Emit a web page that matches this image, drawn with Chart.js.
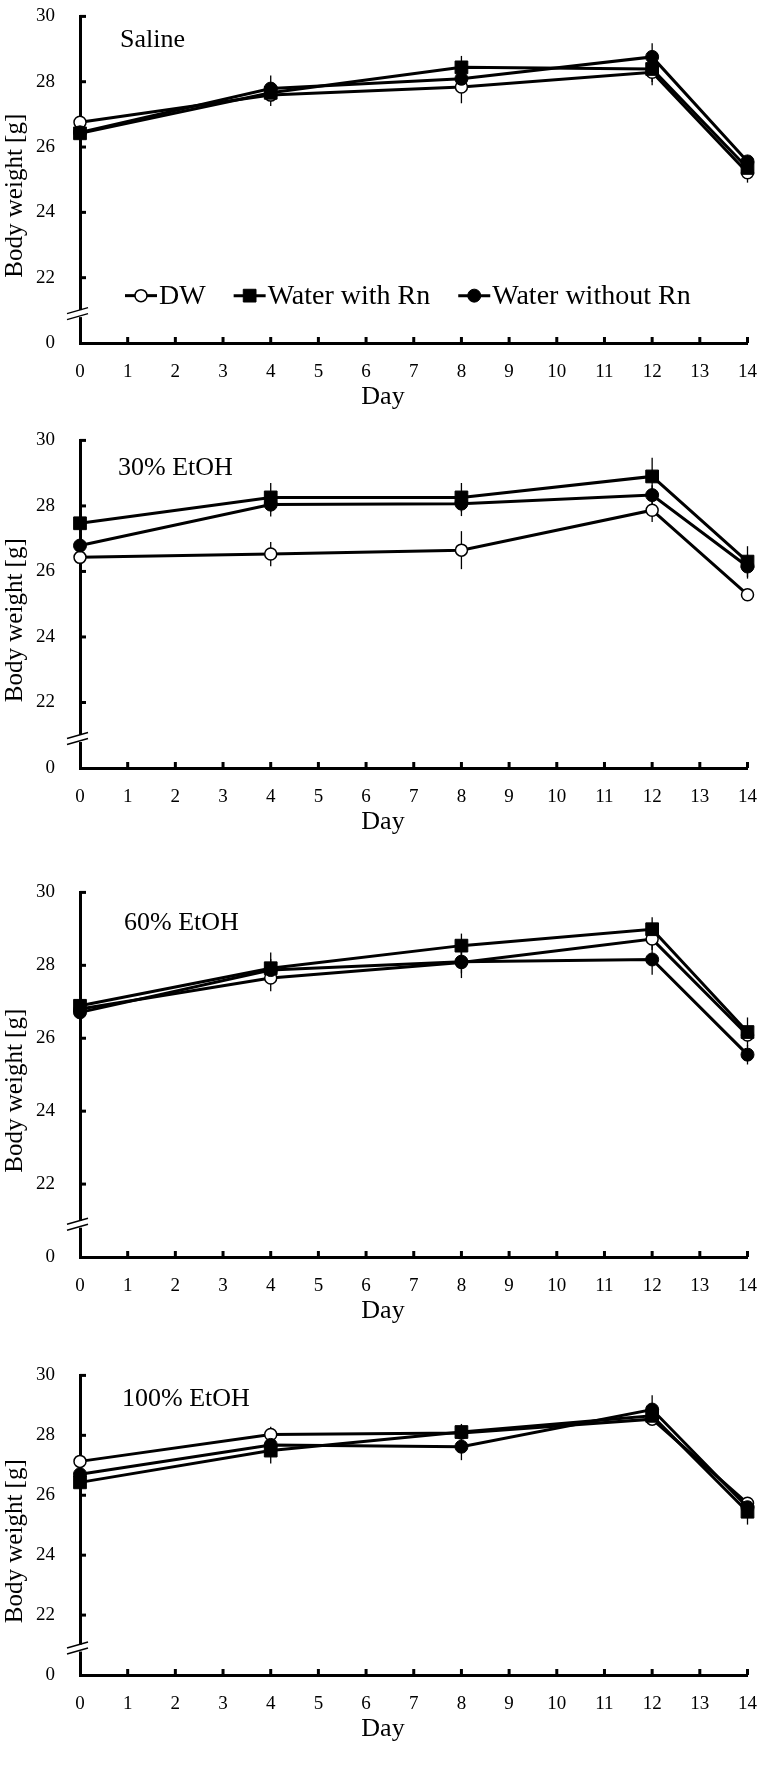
<!DOCTYPE html>
<html>
<head>
<meta charset="utf-8">
<title>Body weight</title>
<script src="https://cdn.jsdelivr.net/npm/chart.js@4.4.1/dist/chart.umd.min.js"></script>
<style>
  html, body { margin: 0; padding: 0; background: #fff; }
  body { width: 767px; height: 1784px; position: relative; overflow: hidden; }
  canvas { position: absolute; left: 0; }
</style>
</head>
<body>
<canvas id="panel0"></canvas>
<canvas id="panel1"></canvas>
<canvas id="panel2"></canvas>
<canvas id="panel3"></canvas>
<script>
// -------- DATA --------
const days = [0, 4, 8, 12, 14];
const dayTicks = [0, 1, 2, 3, 4, 5, 6, 7, 8, 9, 10, 11, 12, 13, 14];
const yTicks = [20, 22, 24, 26, 28, 30];
const yTickLabels = ['0', '22', '24', '26', '28', '30'];
const seriesNames = ['DW', 'Water with Rn', 'Water without Rn'];
const panelTitles = ['Saline', '30% EtOH', '60% EtOH', '100% EtOH'];

// Saline
const salineDW = [26.76, 27.59, 27.84, 28.29, 25.21];
const salineRn = [26.42, 27.66, 28.44, 28.39, 25.36];
const salineNoRn = [26.45, 27.79, 28.09, 28.76, 25.56];
const salineDWErr = [0.15, 0.33, 0.5, 0.3, 0.3];
const salineRnErr = [0.15, 0.2, 0.35, 0.5, 0.2];
const salineNoRnErr = [0.15, 0.4, 0.25, 0.42, 0.2];

// 30% EtOH
const etoh30DW = [26.43, 26.53, 26.65, 27.87, 25.29];
const etoh30Rn = [27.47, 28.26, 28.26, 28.9, 26.3];
const etoh30NoRn = [26.79, 28.04, 28.07, 28.33, 26.15];
const etoh30DWErr = [0.15, 0.37, 0.58, 0.36, 0.15];
const etoh30RnErr = [0.15, 0.44, 0.44, 0.57, 0.47];
const etoh30NoRnErr = [0.15, 0.36, 0.38, 0.3, 0.37];

// 60% EtOH
const etoh60DW = [26.8, 27.65, 28.08, 28.72, 26.09];
const etoh60Rn = [26.89, 27.92, 28.54, 28.99, 26.17];
const etoh60NoRn = [26.71, 27.87, 28.1, 28.16, 25.55];
const etoh60DWErr = [0.15, 0.36, 0.3, 0.3, 0.2];
const etoh60RnErr = [0.15, 0.43, 0.33, 0.33, 0.4];
const etoh60NoRnErr = [0.15, 0.3, 0.45, 0.42, 0.27];

// 100% EtOH
const etoh100DW = [27.13, 28.03, 28.08, 28.54, 25.73];
const etoh100Rn = [26.43, 27.49, 28.11, 28.65, 25.45];
const etoh100NoRn = [26.7, 27.68, 27.62, 28.86, 25.6];
const etoh100DWErr = [0.1, 0.26, 0.2, 0.16, 0.17];
const etoh100RnErr = [0.1, 0.43, 0.27, 0.3, 0.43];
const etoh100NoRnErr = [0.1, 0.3, 0.45, 0.48, 0.3];
// -------- END DATA --------

// -------- LAYOUT --------
const FONT = "'Liberation Serif', 'Times New Roman', serif";
// pixel positions of the 30 g line and the axis on the page, and the panel label spot
const panelLayout = [
    { top: 8, bottom: 343, labelX: 120, labelDy: 31 },
    { top: 432, bottom: 768, labelX: 118, labelDy: 35 },
    { top: 884, bottom: 1257, labelX: 124, labelDy: 38 },
    { top: 1367, bottom: 1675, labelX: 122, labelDy: 31 }
];
const PAD_TOP = 20;
const X_AXIS_H = 75;
const BREAK_AT = 20.9;

const markerStyles = [
    { pointStyle: 'circle', radius: 6, fill: '#fff', borderWidth: 1.5 },
    { pointStyle: 'rect', radius: 9, fill: '#000', borderWidth: 1 },
    { pointStyle: 'circle', radius: 6.5, fill: '#000', borderWidth: 1 }
];
// -------- END LAYOUT --------

Chart.defaults.font.family = FONT;
Chart.defaults.color = '#000';

// -------- DRAWING HELPERS --------
function drawMarker(ctx, style, x, y) {
    ctx.save();
    ctx.fillStyle = style.fill;
    ctx.strokeStyle = '#000';
    ctx.lineWidth = style.borderWidth;
    ctx.beginPath();
    if (style.pointStyle === 'rect') {
        const s = style.radius * Math.SQRT1_2;
        ctx.rect(x - s, y - s, 2 * s, 2 * s);
    } else {
        ctx.arc(x, y, style.radius, 0, Math.PI * 2);
    }
    ctx.fill();
    ctx.stroke();
    ctx.restore();
}

const decorPlugin = {
    id: 'decor',
    beforeDatasetsDraw(chart) {
        const ctx = chart.ctx;
        const xs = chart.scales.x, ys = chart.scales.y;
        ctx.save();
        ctx.strokeStyle = '#000';
        ctx.lineWidth = 1.3;
        chart.data.datasets.forEach(ds => {
            ds.data.forEach((pt, j) => {
                const e = ds.errors[j];
                const px = xs.getPixelForValue(pt.x);
                ctx.beginPath();
                ctx.moveTo(px, ys.getPixelForValue(pt.y + e));
                ctx.lineTo(px, ys.getPixelForValue(pt.y - e));
                ctx.stroke();
            });
        });
        ctx.restore();
    },
    afterDraw(chart, args, opts) {
        const ctx = chart.ctx;
        const area = chart.chartArea;
        const xs = chart.scales.x, ys = chart.scales.y;
        const ax = area.left, ay = area.bottom;
        ctx.save();
        ctx.strokeStyle = '#000';
        ctx.fillStyle = '#000';

        // inside tick marks
        ctx.lineWidth = 3;
        yTicks.forEach(v => {
            if (v === yTicks[0]) return;
            const py = ys.getPixelForValue(v);
            ctx.beginPath();
            ctx.moveTo(ax, py);
            ctx.lineTo(ax + 6, py);
            ctx.stroke();
        });
        dayTicks.forEach(v => {
            if (v === dayTicks[0]) return;
            const px = xs.getPixelForValue(v);
            ctx.beginPath();
            ctx.moveTo(px, ay);
            ctx.lineTo(px, ay - 6);
            ctx.stroke();
        });

        // axis break
        const by = ys.getPixelForValue(BREAK_AT);
        ctx.fillStyle = '#fff';
        ctx.fillRect(ax - 3, by - 3.5, 6, 7);
        ctx.lineWidth = 1.5;
        [-3, 3].forEach(d => {
            ctx.beginPath();
            ctx.moveTo(ax - 13, by + d + 3);
            ctx.lineTo(ax + 8, by + d - 3);
            ctx.stroke();
        });

        // axis titles
        ctx.fillStyle = '#000';
        ctx.font = '26px ' + FONT;
        ctx.textAlign = 'center';
        ctx.textBaseline = 'alphabetic';
        ctx.fillText(chart.options.scales.x.title.text, 383, ay + 61);

        ctx.save();
        ctx.font = '25px ' + FONT;
        ctx.translate(22, (area.top + area.bottom) / 2 + 16);
        ctx.rotate(-Math.PI / 2);
        ctx.fillText(chart.options.scales.y.title.text, 0, 0);
        ctx.restore();

        // panel label
        ctx.font = '26px ' + FONT;
        ctx.textAlign = 'left';
        ctx.fillText(opts.label, opts.labelX, area.top + opts.labelDy);

        // legend (first panel only)
        if (opts.legend) {
            const ly = ys.getPixelForValue(21.45);
            let lx = 125;
            ctx.font = '28px ' + FONT;
            chart.data.datasets.forEach((ds, i) => {
                ctx.lineWidth = 3;
                ctx.beginPath();
                ctx.moveTo(lx, ly);
                ctx.lineTo(lx + 32, ly);
                ctx.stroke();
                drawMarker(ctx, markerStyles[i], lx + 16, ly);
                ctx.fillStyle = '#000';
                ctx.fillText(ds.label, lx + 34, ly + 8);
                lx += 34 + ctx.measureText(ds.label).width + 28;
            });
        }
        ctx.restore();
    }
};
// -------- END DRAWING HELPERS --------

// -------- CHARTS --------
function makeDataset(i, values, errors) {
    const m = markerStyles[i];
    return {
        label: seriesNames[i],
        data: days.map((d, j) => ({ x: d, y: values[j] })),
        errors: errors,
        borderColor: '#000',
        borderWidth: 3,
        tension: 0,
        pointStyle: m.pointStyle,
        pointRadius: m.radius,
        pointBackgroundColor: m.fill,
        pointBorderColor: '#000',
        pointBorderWidth: m.borderWidth,
        order: 3 - i,
        clip: false
    };
}

function createPanel(index, series) {
    const lay = panelLayout[index];
    const canvas = document.getElementById('panel' + index);
    const height = lay.bottom - lay.top + PAD_TOP + X_AXIS_H;
    canvas.width = 767;
    canvas.height = height;
    canvas.style.top = (lay.top - PAD_TOP) + 'px';

    new Chart(canvas.getContext('2d'), {
        type: 'line',
        data: {
            datasets: series.map((s, i) => makeDataset(i, s[0], s[1]))
        },
        options: {
            responsive: false,
            animation: false,
            devicePixelRatio: 1,
            layout: { padding: { top: PAD_TOP, right: 11, left: 0, bottom: 0 } },
            plugins: {
                legend: { display: false },
                tooltip: { enabled: false },
                decor: {
                    label: panelTitles[index],
                    labelX: lay.labelX,
                    labelDy: lay.labelDy,
                    legend: index === 0
                }
            },
            scales: {
                x: {
                    type: 'linear',
                    min: 0,
                    max: 14,
                    afterBuildTicks: s => { s.ticks = dayTicks.map(v => ({ value: v })); },
                    ticks: { font: { size: 19 }, padding: 10, color: '#000', maxRotation: 0, autoSkip: false },
                    grid: { display: false },
                    border: { display: true, color: '#000', width: 3 },
                    title: { display: false, text: 'Day' },
                    afterFit: s => { s.height = X_AXIS_H; }
                },
                y: {
                    type: 'linear',
                    min: 20,
                    max: 30,
                    afterBuildTicks: s => { s.ticks = yTicks.map(v => ({ value: v })); },
                    ticks: {
                        font: { size: 19 },
                        padding: 17,
                        color: '#000',
                        callback: (v, i) => yTickLabels[i]
                    },
                    grid: { display: false },
                    border: { display: true, color: '#000', width: 3 },
                    title: { display: false, text: 'Body weight [g]' },
                    afterFit: s => { s.width = 80; }
                }
            }
        },
        plugins: [decorPlugin]
    });
}

createPanel(0, [[salineDW, salineDWErr], [salineRn, salineRnErr], [salineNoRn, salineNoRnErr]]);
createPanel(1, [[etoh30DW, etoh30DWErr], [etoh30Rn, etoh30RnErr], [etoh30NoRn, etoh30NoRnErr]]);
createPanel(2, [[etoh60DW, etoh60DWErr], [etoh60Rn, etoh60RnErr], [etoh60NoRn, etoh60NoRnErr]]);
createPanel(3, [[etoh100DW, etoh100DWErr], [etoh100Rn, etoh100RnErr], [etoh100NoRn, etoh100NoRnErr]]);
// -------- END CHARTS --------
</script>
</body>
</html>
